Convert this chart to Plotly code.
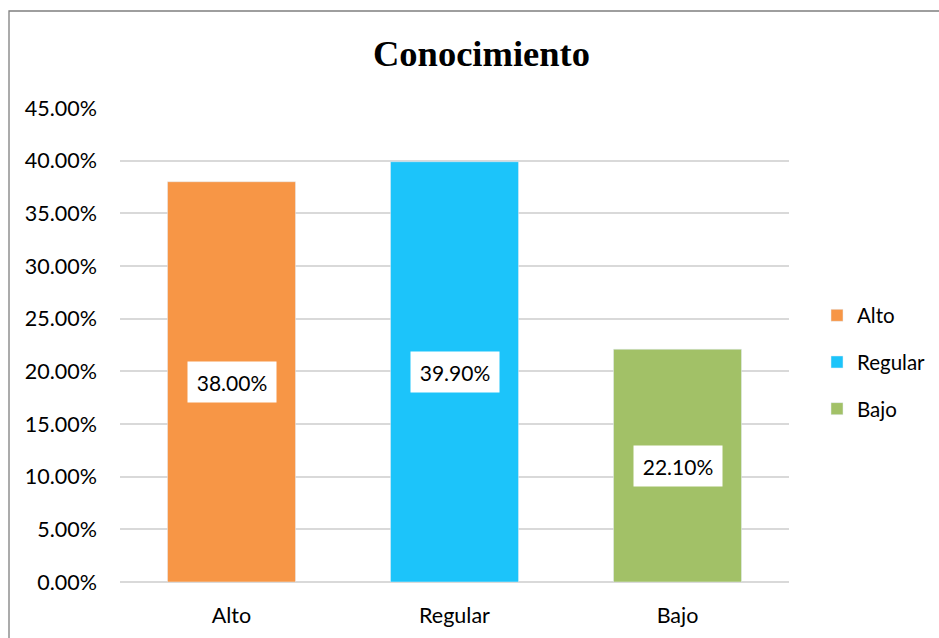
import plotly.graph_objects as go

categories = ["Alto", "Regular", "Bajo"]
values = [0.38, 0.399, 0.221]
labels = ["38.00%", "39.90%", "22.10%"]
colors = ["#F79646", "#1CC4FA", "#A2C167"]

W, H = 939, 638
L, R, T, B = 120, 150, 108, 56

fig = go.Figure()
for i, (c, v, col) in enumerate(zip(categories, values, colors)):
    fig.add_trace(go.Bar(
        x=[c], y=[v], name=c, marker_color=col, width=0.574,
        legendgroup=c, hoverinfo="skip",
    ))
    fig.add_annotation(
        x=c, y=v / 2, text=labels[i], showarrow=False,
        bgcolor="white", width=86, height=38,
        font=dict(family="Lato", size=21, color="black"),
    )

fig.update_layout(
    width=W, height=H,
    margin=dict(l=L, r=R, t=T, b=B, pad=0, autoexpand=False),
    paper_bgcolor="white", plot_bgcolor="white",
    barmode="overlay",
    title=dict(text="<b>Conocimiento</b>", x=481.5 / W, xanchor="center",
               y=1 - 53 / H, yanchor="middle",
               font=dict(family="Liberation Serif", size=36.5, color="black")),
    font=dict(family="Lato", size=21.5, color="black"),
    xaxis=dict(categoryorder="array", categoryarray=categories,
               showgrid=False, showline=False, ticks="", ticklabelstandoff=18,
               tickfont=dict(size=21.5)),
    yaxis=dict(range=[0, 0.45], dtick=0.05, tickformat=".2%",
               showgrid=True, gridcolor="#D9D9D9", gridwidth=1.5,
               zeroline=True, zerolinecolor="#D9D9D9", zerolinewidth=1.5,
               showline=False, ticks="", ticklabelstandoff=22,
               tickfont=dict(size=21.5)),
    legend=dict(x=(817 - L) / (W - L - R), y=(582 - 362) / (H - T - B),
                xanchor="left", yanchor="middle", traceorder="grouped",
                tracegroupgap=17, font=dict(size=20.5), itemwidth=30),
    showlegend=True,
)

fig.add_shape(type="rect", xref="paper", yref="paper",
              x0=(9 - L) / (W - L - R), x1=(W + 5 - L) / (W - L - R),
              y0=(H - B - (H + 5)) / (H - T - B), y1=(H - B - 11) / (H - T - B),
              line=dict(color="#7F7F7F", width=1.3), layer="below")

fig.write_html("out.html")
